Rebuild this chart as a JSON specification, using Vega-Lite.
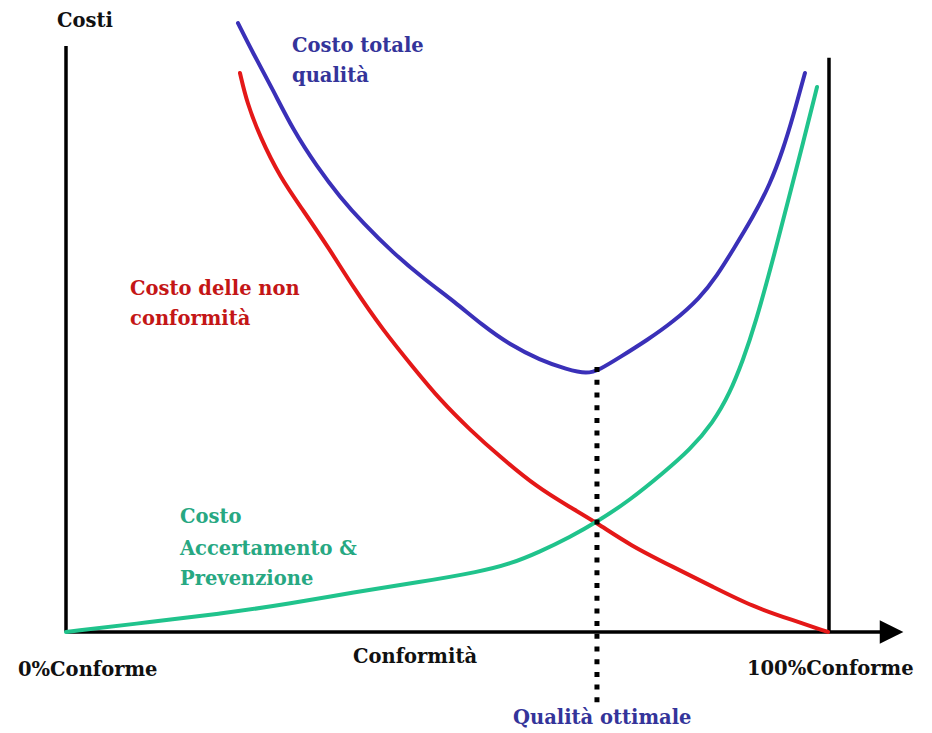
{
  "$schema": "https://vega.github.io/schema/vega-lite/v6.json",
  "width": 932,
  "height": 733,
  "padding": 0,
  "autosize": {"type": "fit", "contains": "padding"},
  "background": "white",
  "config": {"view": {"stroke": null}},
  "datasets": {
    "curves": [
      {"series": "Costo totale qualità", "x": 22.54, "y": 103.9},
      {"series": "Costo totale qualità", "x": 24.51, "y": 98.8},
      {"series": "Costo totale qualità", "x": 27.13, "y": 92.5},
      {"series": "Costo totale qualità", "x": 29.75, "y": 85.7},
      {"series": "Costo totale qualità", "x": 32.9, "y": 79.4},
      {"series": "Costo totale qualità", "x": 35.91, "y": 74.2},
      {"series": "Costo totale qualità", "x": 38.93, "y": 69.8},
      {"series": "Costo totale qualità", "x": 42.86, "y": 64.7},
      {"series": "Costo totale qualità", "x": 47.05, "y": 60.1},
      {"series": "Costo totale qualità", "x": 50.98, "y": 56.3},
      {"series": "Costo totale qualità", "x": 54.52, "y": 52.4},
      {"series": "Costo totale qualità", "x": 58.19, "y": 49.0},
      {"series": "Costo totale qualità", "x": 62.12, "y": 46.4},
      {"series": "Costo totale qualità", "x": 65.66, "y": 44.8},
      {"series": "Costo totale qualità", "x": 68.28, "y": 44.0},
      {"series": "Costo totale qualità", "x": 69.99, "y": 44.8},
      {"series": "Costo totale qualità", "x": 72.61, "y": 46.9},
      {"series": "Costo totale qualità", "x": 76.15, "y": 49.8},
      {"series": "Costo totale qualità", "x": 79.55, "y": 52.9},
      {"series": "Costo totale qualità", "x": 83.09, "y": 57.0},
      {"series": "Costo totale qualità", "x": 85.32, "y": 60.8},
      {"series": "Costo totale qualità", "x": 87.42, "y": 65.2},
      {"series": "Costo totale qualità", "x": 90.04, "y": 70.8},
      {"series": "Costo totale qualità", "x": 92.27, "y": 76.4},
      {"series": "Costo totale qualità", "x": 93.97, "y": 82.3},
      {"series": "Costo totale qualità", "x": 95.28, "y": 87.9},
      {"series": "Costo totale qualità", "x": 96.85, "y": 95.4},
      {"series": "Costo delle non conformità", "x": 22.8, "y": 95.4},
      {"series": "Costo delle non conformità", "x": 23.72, "y": 90.3},
      {"series": "Costo delle non conformità", "x": 25.43, "y": 84.5},
      {"series": "Costo delle non conformità", "x": 28.05, "y": 77.6},
      {"series": "Costo delle non conformità", "x": 31.06, "y": 72.0},
      {"series": "Costo delle non conformità", "x": 34.6, "y": 65.2},
      {"series": "Costo delle non conformità", "x": 37.61, "y": 58.9},
      {"series": "Costo delle non conformità", "x": 41.55, "y": 51.5},
      {"series": "Costo delle non conformità", "x": 45.48, "y": 45.2},
      {"series": "Costo delle non conformità", "x": 49.02, "y": 39.6},
      {"series": "Costo delle non conformità", "x": 52.95, "y": 34.5},
      {"series": "Costo delle non conformità", "x": 56.88, "y": 29.9},
      {"series": "Costo delle non conformità", "x": 61.73, "y": 24.7},
      {"series": "Costo delle non conformità", "x": 66.06, "y": 21.3},
      {"series": "Costo delle non conformità", "x": 69.59, "y": 18.6},
      {"series": "Costo delle non conformità", "x": 73.92, "y": 14.8},
      {"series": "Costo delle non conformità", "x": 79.55, "y": 11.1},
      {"series": "Costo delle non conformità", "x": 84.8, "y": 7.7},
      {"series": "Costo delle non conformità", "x": 90.04, "y": 4.3},
      {"series": "Costo delle non conformità", "x": 95.28, "y": 2.0},
      {"series": "Costo delle non conformità", "x": 99.87, "y": 0.0},
      {"series": "Costo Accertamento & Prevenzione", "x": 0.0, "y": 0.0},
      {"series": "Costo Accertamento & Prevenzione", "x": 11.01, "y": 1.7},
      {"series": "Costo Accertamento & Prevenzione", "x": 20.18, "y": 3.1},
      {"series": "Costo Accertamento & Prevenzione", "x": 29.36, "y": 4.8},
      {"series": "Costo Accertamento & Prevenzione", "x": 37.61, "y": 6.8},
      {"series": "Costo Accertamento & Prevenzione", "x": 46.4, "y": 8.5},
      {"series": "Costo Accertamento & Prevenzione", "x": 54.26, "y": 10.3},
      {"series": "Costo Accertamento & Prevenzione", "x": 58.19, "y": 11.6},
      {"series": "Costo Accertamento & Prevenzione", "x": 62.12, "y": 13.7},
      {"series": "Costo Accertamento & Prevenzione", "x": 66.06, "y": 16.2},
      {"series": "Costo Accertamento & Prevenzione", "x": 69.59, "y": 18.8},
      {"series": "Costo Accertamento & Prevenzione", "x": 73.92, "y": 22.5},
      {"series": "Costo Accertamento & Prevenzione", "x": 78.24, "y": 27.1},
      {"series": "Costo Accertamento & Prevenzione", "x": 81.78, "y": 31.1},
      {"series": "Costo Accertamento & Prevenzione", "x": 84.8, "y": 35.7},
      {"series": "Costo Accertamento & Prevenzione", "x": 87.02, "y": 40.8},
      {"series": "Costo Accertamento & Prevenzione", "x": 88.73, "y": 46.4},
      {"series": "Costo Accertamento & Prevenzione", "x": 90.3, "y": 52.4},
      {"series": "Costo Accertamento & Prevenzione", "x": 92.66, "y": 63.5},
      {"series": "Costo Accertamento & Prevenzione", "x": 94.89, "y": 74.9},
      {"series": "Costo Accertamento & Prevenzione", "x": 96.59, "y": 83.4},
      {"series": "Costo Accertamento & Prevenzione", "x": 98.43, "y": 93.0}
    ],
    "axes": [
      {"name": "asse costi", "x": 0, "y": 0, "x2": 0, "y2": 100},
      {"name": "100%", "x": 100, "y": 0, "x2": 100, "y2": 98},
      {"name": "asse conformità", "x": 0, "y": 0, "x2": 107.2, "y2": 0}
    ],
    "optimum": [
      {"x": 69.59, "y": 45.2, "y2": -12.5}
    ],
    "arrow": [
      {"x": 108.2, "y": 0}
    ],
    "labels": [
      {"text": "Costi", "series": "nero", "x": -1.18, "y": 103.24},
      {"text": "0%Conforme", "series": "nero", "x": -6.29, "y": -7.51},
      {"text": "Conformità", "series": "nero", "x": 37.61, "y": -5.29},
      {"text": "100%Conforme", "series": "nero", "x": 89.25, "y": -7.34},
      {"text": "Qualità ottimale", "series": "Costo totale qualità", "x": 58.58, "y": -15.7},
      {"text": "Costo totale", "series": "Costo totale qualità", "x": 29.62, "y": 98.98},
      {"text": "qualità", "series": "Costo totale qualità", "x": 29.62, "y": 93.86},
      {"text": "Costo delle non", "series": "Costo delle non conformità", "x": 8.39, "y": 57.51},
      {"text": "conformità", "series": "Costo delle non conformità", "x": 8.39, "y": 52.39},
      {"text": "Costo", "series": "Costo Accertamento & Prevenzione", "x": 14.94, "y": 18.6},
      {"text": "Accertamento &", "series": "Costo Accertamento & Prevenzione", "x": 14.94, "y": 13.14},
      {"text": "Prevenzione", "series": "Costo Accertamento & Prevenzione", "x": 14.94, "y": 8.02}
    ]
  },
  "layer": [
    {
      "data": {"name": "axes"},
      "mark": {"type": "rule", "color": "black", "strokeWidth": 3.5, "strokeCap": "butt"},
      "encoding": {
        "x": {"field": "x", "type": "quantitative", "scale": {"domain": [-8.65, 113.5], "nice": false, "zero": false}, "axis": null},
        "y": {"field": "y", "type": "quantitative", "scale": {"domain": [-17.24, 107.85], "nice": false, "zero": false}, "axis": null},
        "x2": {"field": "x2"},
        "y2": {"field": "y2"}
      }
    },
    {
      "data": {"name": "arrow"},
      "mark": {"type": "point", "shape": "M-1,-1L1,0L-1,1Z", "size": 560, "filled": true, "color": "black", "opacity": 1},
      "encoding": {
        "x": {"field": "x", "type": "quantitative", "scale": {"domain": [-8.65, 113.5], "nice": false, "zero": false}, "axis": null},
        "y": {"field": "y", "type": "quantitative", "scale": {"domain": [-17.24, 107.85], "nice": false, "zero": false}, "axis": null}
      }
    },
    {
      "data": {"name": "curves"},
      "mark": {"type": "line", "strokeWidth": 4, "strokeCap": "round", "strokeJoin": "round", "interpolate": "basis"},
      "encoding": {
        "x": {"field": "x", "type": "quantitative", "scale": {"domain": [-8.65, 113.5], "nice": false, "zero": false}, "axis": null},
        "y": {"field": "y", "type": "quantitative", "scale": {"domain": [-17.24, 107.85], "nice": false, "zero": false}, "axis": null},
        "detail": {"field": "series"},
        "color": {
          "field": "series", "type": "nominal", "legend": null,
          "scale": {"domain": ["Costo totale qualità", "Costo delle non conformità", "Costo Accertamento & Prevenzione"], "range": ["#3a30b8", "#e41818", "#20c38c"]}
        }
      }
    },
    {
      "data": {"name": "optimum"},
      "mark": {"type": "rule", "color": "black", "strokeWidth": 5, "strokeDash": [5, 7.7], "strokeCap": "butt"},
      "encoding": {
        "x": {"field": "x", "type": "quantitative", "scale": {"domain": [-8.65, 113.5], "nice": false, "zero": false}, "axis": null},
        "y": {"field": "y", "type": "quantitative", "scale": {"domain": [-17.24, 107.85], "nice": false, "zero": false}, "axis": null},
        "y2": {"field": "y2"}
      }
    },
    {
      "data": {"name": "labels"},
      "mark": {"type": "text", "align": "left", "baseline": "alphabetic", "font": "DejaVu Serif", "fontWeight": "bold", "fontSize": 19.5},
      "encoding": {
        "x": {"field": "x", "type": "quantitative", "scale": {"domain": [-8.65, 113.5], "nice": false, "zero": false}, "axis": null},
        "y": {"field": "y", "type": "quantitative", "scale": {"domain": [-17.24, 107.85], "nice": false, "zero": false}, "axis": null},
        "text": {"field": "text"},
        "color": {
          "field": "series", "type": "nominal", "legend": null,
          "scale": {"domain": ["nero", "Costo totale qualità", "Costo delle non conformità", "Costo Accertamento & Prevenzione"], "range": ["#111111", "#34349a", "#c41616", "#27a882"]}
        }
      }
    }
  ],
  "resolve": {"scale": {"color": "independent"}}
}
